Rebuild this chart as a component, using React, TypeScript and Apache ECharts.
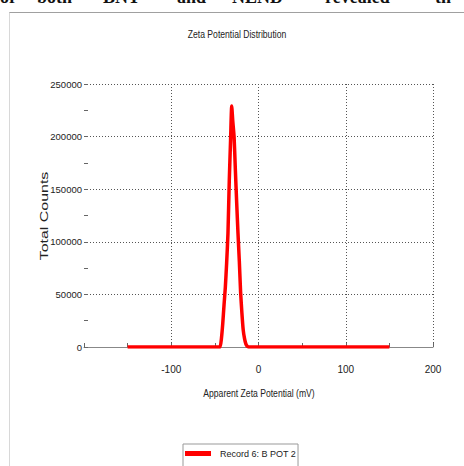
import React, { useEffect, useRef } from "react";
import * as echarts from "echarts";

// Apparent zeta potential (mV) and total counts for the measured record
const potential = [
  -150, -46, -44, -42.5, -41, -39.5, -38, -36.5, -35, -33.5, -32, -30.7,
  -29.5, -28, -26.5, -25, -23.5, -22, -20.5, -19, -17.5, -16, -14.5, -13,
  -11.5, 150,
];
const counts = [
  0, 0, 0, 8000, 22000, 40000, 57000, 80000, 108000, 158000, 197000, 229000,
  215000, 200000, 168000, 137000, 108000, 82000, 52000, 32000, 16000, 8000,
  3000, 800, 0, 0,
];

const xTicks = { min: -200, max: 200, interval: 100 };
const yTicks = { min: 0, max: 250000, interval: 50000 };

const seriesName = "Record 6: B POT 2";
const chartTitle = "Zeta Potential Distribution";
const xName = "Apparent Zeta Potential (mV)";
const yName = "Total Counts";

// Running header text cut off at the top edge of the page
const headerWords = ["or", "both", "BNT", "and", "NLND", "revealed", "th"];
const headerX = [0, 37, 103, 177, 232, 325, 435];

const SANS = "'Liberation Sans', Arial, sans-serif";

export default function App() {
  const ref = useRef<HTMLDivElement>(null);

  useEffect(() => {
    if (!ref.current) return;
    const chart = echarts.init(ref.current, undefined, { renderer: "svg" });

    const dotted = { color: "#555", width: 1, type: [1, 2] as number[] };
    const narrowText = (text: string, x: number, y: number, size: number) => ({
      type: "text",
      x,
      y,
      scaleX: 0.82,
      silent: true,
      style: {
        text,
        fontFamily: SANS,
        fontSize: size,
        fill: "#222",
        align: "center",
        verticalAlign: "middle",
      },
    });

    chart.setOption({
      animation: false,
      backgroundColor: "#fff",
      legend: {
        data: [seriesName],
        left: 183,
        top: 444,
        orient: "horizontal",
        borderColor: "#999",
        borderWidth: 1,
        padding: [5, 2, 30, 2],
        icon: "rect",
        itemWidth: 26,
        itemHeight: 5,
        itemStyle: { color: "#ff0000" },
        textStyle: {
          fontFamily: SANS,
          fontSize: 9,
          color: "#222",
          padding: [0, 0, 0, 4],
        },
      },
      grid: { left: 84, right: 31, top: 84, bottom: 119 },
      xAxis: {
        type: "value",
        min: xTicks.min,
        max: xTicks.max,
        interval: xTicks.interval,
        axisLine: { show: true, lineStyle: { color: "#888", width: 1 } },
        axisTick: { show: true, inside: true, length: 4, lineStyle: { color: "#666" } },
        minorTick: { show: true, splitNumber: 2, length: 4, lineStyle: { color: "#666" } },
        splitLine: { show: true, showMinLine: false, lineStyle: dotted },
        axisLabel: {
          margin: 17,
          showMinLabel: false,
          fontFamily: SANS,
          fontSize: 10,
          color: "#222",
        },
      },
      yAxis: {
        type: "value",
        min: yTicks.min,
        max: yTicks.max,
        interval: yTicks.interval,
        axisLine: { show: false, onZero: false },
        axisTick: { show: true, inside: true, length: 4, lineStyle: { color: "#666" } },
        minorTick: { show: true, splitNumber: 2, length: 4, lineStyle: { color: "#666" } },
        splitLine: { show: true, showMinLine: false, lineStyle: dotted },
        axisLabel: {
          margin: 2,
          fontFamily: SANS,
          fontSize: 9.5,
          color: "#222",
          formatter: (v: number) => String(v),
        },
      },
      graphic: [
        // page frame
        {
          type: "line",
          shape: { x1: 9, y1: 12.5, x2: 464, y2: 12.5 },
          style: { stroke: "#a0a0a0", lineWidth: 1 },
          silent: true,
        },
        {
          type: "line",
          shape: { x1: 9.5, y1: 12.5, x2: 9.5, y2: 466 },
          style: { stroke: "#d8d8d8", lineWidth: 1 },
          silent: true,
        },
        ...headerWords.map((w, i) => ({
          type: "text",
          x: headerX[i],
          y: -3,
          silent: true,
          style: {
            text: w,
            fontFamily: "'Liberation Serif', serif",
            fontWeight: "bold",
            fontSize: 18,
            fill: "#111",
            align: "left",
            verticalAlign: "middle",
          },
        })),
        narrowText(chartTitle, 237, 34, 10.5),
        narrowText(xName, 259, 393, 10.5),
        {
          type: "text",
          x: 44,
          y: 216,
          rotation: Math.PI / 2,
          scaleX: 1.45,
          silent: true,
          style: {
            text: yName,
            fontFamily: SANS,
            fontSize: 11,
            fill: "#222",
            align: "center",
            verticalAlign: "middle",
          },
        },
      ],
      series: [
        {
          name: seriesName,
          type: "line",
          data: potential.map((p, i) => [p, counts[i]]),
          showSymbol: false,
          smooth: 0.2,
          lineStyle: { color: "#ff0000", width: 3.5 },
          itemStyle: { color: "#ff0000" },
        },
      ],
    });

    return () => chart.dispose();
  }, []);

  return <div ref={ref} style={{ width: 464, height: 466, position: "absolute", left: 0, top: 0 }} />;
}
